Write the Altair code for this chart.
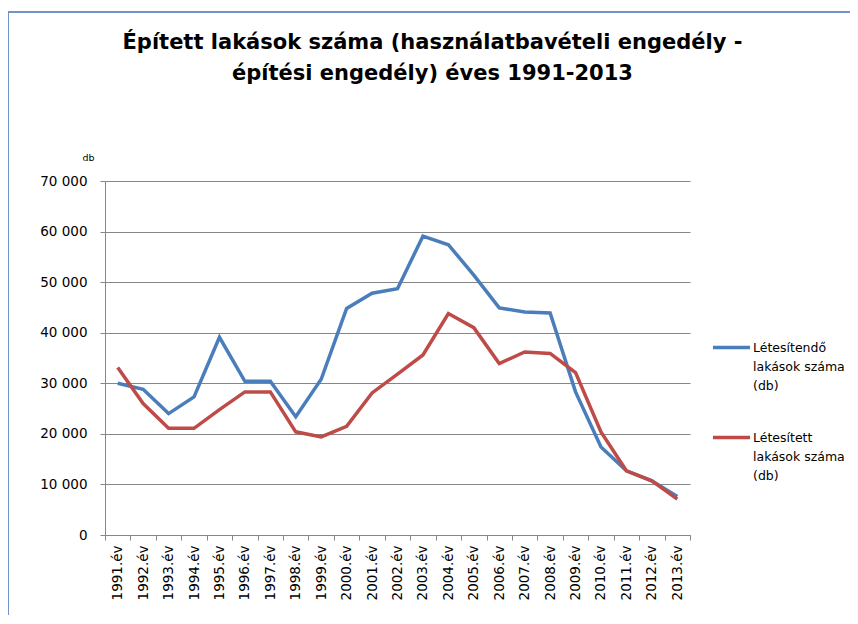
import altair as alt
import pandas as pd

years = list(range(1991, 2014))
letesitendo = [30000, 28800, 24000, 27300, 39100, 30400, 30400, 23400, 30800, 44800,
               47800, 48700, 59100, 57400, 51400, 44900, 44100, 43900, 28300, 17400,
               12700, 10700, 7600]
letesitett = [33100, 26000, 21100, 21100, 24800, 28300, 28300, 20400, 19400, 21500,
              28100, 31800, 35600, 43800, 41000, 33900, 36200, 35900, 32100, 20400,
              12700, 10700, 7100]
series_names = ["Létesítendő lakások száma (db)", "Létesített lakások száma (db)"]
series_colors = ["#4A7EBB", "#BE4B48"]
title_lines = ["Épített lakások száma (használatbavételi engedély -",
               "építési engedély) éves 1991-2013"]
y_ticks = [0, 10000, 20000, 30000, 40000, 50000, 60000, 70000]

rows = []
for name, vals in zip(series_names, [letesitendo, letesitett]):
    for yr, v in zip(years, vals):
        rows.append({"year": yr, "value": v, "series": name})
df = pd.DataFrame(rows)

x_values = sorted([y - 0.5 for y in years] + years + [years[-1] + 0.5])

FONT = "DejaVu Sans"

lines = alt.Chart(df).mark_line(strokeWidth=3.5).encode(
    x=alt.X("year:Q",
            scale=alt.Scale(domain=[years[0] - 0.5, years[-1] + 0.5], nice=False, zero=False),
            axis=alt.Axis(values=x_values, title=None, grid=False,
                          labelExpr="datum.value % 1 == 0 ? datum.value + '.év' : ''",
                          labelAngle=-90, labelFontSize=13.5, labelFont=FONT, labelColor="#000",
                          labelPadding=5, tickSize=5, tickColor="#868686",
                          tickOpacity={"condition": {"test": "datum.value % 1 == 0", "value": 0}, "value": 1},
                          domainColor="#868686", labelOverlap=False, labelFlush=False)),
    y=alt.Y("value:Q",
            scale=alt.Scale(domain=[0, 70000], nice=False),
            axis=alt.Axis(values=y_ticks, title="db", titleAngle=0, titleAlign="left",
                          titleBaseline="middle", titleX=-23, titleY=-24, titleFontSize=9.5,
                          titleFontWeight="normal", titleFont=FONT, titleColor="#000",
                          labelExpr="replace(format(datum.value, ','), ',', ' ')",
                          labelFontSize=13.5, labelFont=FONT, labelColor="#000", labelPadding=13,
                          tickSize=5, tickColor="#868686", domainColor="#868686",
                          gridColor="#868686", gridWidth=1)),
    color=alt.Color("series:N",
                    scale=alt.Scale(domain=series_names, range=series_colors),
                    legend=alt.Legend(title=None, orient="none", legendX=606, legendY=146,
                                      symbolType="stroke", symbolSize=1369, symbolStrokeWidth=3.5,
                                      labelFont=FONT, labelFontSize=12.5, labelColor="#000",
                                      labelExpr="split(replace(replace(datum.label, ' lakások', '|lakások'), ' (db)', '|(db)'), '|')",
                                      labelLimit=200, rowPadding=25, labelOffset=1)),
)

frame = alt.Chart(df).mark_rect(fill=None, stroke="#7094C9", strokeWidth=1).encode(
    x=alt.value(-97), x2=alt.value(900), y=alt.value(-169), y2=alt.value(700)
)

chart = alt.layer(frame, lines).properties(
    width=585, height=354,
    autosize=alt.AutoSizeParams(type="none"),
    padding={"left": 97, "top": 173, "right": 160, "bottom": 80},
    title=alt.TitleParams(text=title_lines, font=FONT, fontSize=21, fontWeight="bold",
                          color="#000", anchor="middle", dx=35, offset=-72, lineHeight=31),
).configure(
    view={"stroke": None},
    style={"guide-label": {"lineHeight": 19}},
)

chart.save("out.html", embed_options={"renderer": "svg", "actions": False})
